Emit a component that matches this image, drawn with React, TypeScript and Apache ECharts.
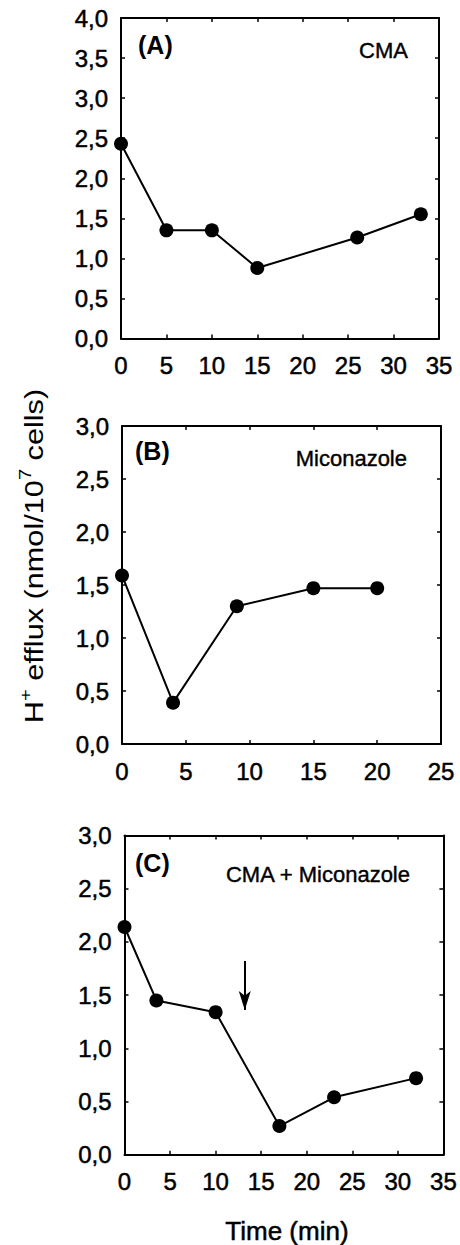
import React, { useEffect, useRef } from "react";
import * as echarts from "echarts";

// Panel A: CMA
const timeA = [0, 5, 10, 15, 26, 33];
const effluxA = [2.43, 1.35, 1.35, 0.88, 1.26, 1.55];
// Panel B: Miconazole
const timeB = [0, 4, 9, 15, 20];
const effluxB = [1.59, 0.39, 1.3, 1.47, 1.47];
// Panel C: CMA + Miconazole
const timeC = [0, 3.5, 10, 17, 23, 32];
const effluxC = [2.14, 1.45, 1.34, 0.27, 0.54, 0.72];
// Arrow in panel C (time, from value, to value)
const arrowTime = 13.2;
const arrowFrom = 1.82;
const arrowTo = 1.36;

const panelLetters = ["(A)", "(B)", "(C)"];
const panelTitles = ["CMA", "Miconazole", "CMA + Miconazole"];
const xMaxes = [35, 25, 35];
const yMaxes = [4, 3, 3];
const xInterval = 5;
const yInterval = 0.5;
const xTitle = "Time (min)";

const FONT = "'Liberation Sans', Arial, Helvetica, sans-serif";
const HEAVY = { textBorderColor: "#000", textBorderWidth: 0.5 };

export default function App() {
  const ref = useRef<HTMLDivElement>(null);

  useEffect(() => {
    if (!ref.current) return;
    const chart = echarts.init(ref.current, null, { renderer: "svg" });

    const grids = [
      { left: 121, top: 18, width: 318, height: 320.5 },
      { left: 122, top: 426, width: 319, height: 318 },
      { left: 124.5, top: 835.5, width: 319, height: 319.5 },
    ];
    const series = [
      timeA.map((t, i) => [t, effluxA[i]]),
      timeB.map((t, i) => [t, effluxB[i]]),
      timeC.map((t, i) => [t, effluxC[i]]),
    ];

    const axisLine = { show: true, onZero: false, lineStyle: { color: "#000", width: 2 } };
    const axisTick = { show: true, inside: true, length: 4, lineStyle: { color: "#000", width: 1.5 } };
    const labelStyle = { color: "#000", fontSize: 24, fontFamily: FONT, ...HEAVY };

    const xAxis: any[] = [];
    const yAxis: any[] = [];
    grids.forEach((_, i) => {
      const base = { type: "value", gridIndex: i, min: 0, max: xMaxes[i], interval: xInterval, splitLine: { show: false }, axisLine, axisTick };
      xAxis.push({
        ...base,
        position: "bottom",
        axisLabel: { ...labelStyle, margin: 15, showMinLabel: true, showMaxLabel: true },
        ...(i === 2
          ? {
              name: xTitle,
              nameLocation: "middle",
              nameGap: 63,
              nameTextStyle: { color: "#000", fontSize: 26, fontFamily: FONT, padding: [0, 0, 0, 6], ...HEAVY },
            }
          : {}),
      });
      xAxis.push({ ...base, position: "top", axisLabel: { show: false } });
      const ybase = { type: "value", gridIndex: i, min: 0, max: yMaxes[i], interval: yInterval, splitLine: { show: false }, axisLine, axisTick };
      yAxis.push({
        ...ybase,
        position: "left",
        axisLabel: {
          ...labelStyle,
          margin: 13,
          showMinLabel: true,
          showMaxLabel: true,
          formatter: (v: number) => v.toFixed(1).replace(".", ","),
        },
      });
      yAxis.push({ ...ybase, position: "right", axisLabel: { show: false } });
    });

    const seriesOpts: any[] = series.map((data, i) => ({
      type: "line",
      xAxisIndex: 2 * i,
      yAxisIndex: 2 * i,
      data,
      symbol: "circle",
      symbolSize: 14,
      clip: false,
      itemStyle: { color: "#000" },
      lineStyle: { color: "#000", width: 2 },
      ...(i === 2
        ? {
            markLine: {
              silent: true,
              symbol: ["none", "arrow"],
              symbolSize: [9, 19],
              label: { show: false },
              lineStyle: { color: "#000", width: 2, type: "solid" },
              data: [[{ coord: [arrowTime, arrowFrom] }, { coord: [arrowTime, arrowTo] }]],
            },
          }
        : {}),
    }));

    const letterPos = [
      { x: 138, y: 45 },
      { x: 135, y: 451 },
      { x: 135, y: 863 },
    ];
    const titlePos = [
      { x: 408, y: 50 },
      { x: 407, y: 458 },
      { x: 410, y: 874 },
    ];

    const graphic: any[] = [];
    panelLetters.forEach((t, i) => {
      graphic.push({
        type: "text",
        x: letterPos[i].x,
        y: letterPos[i].y,
        style: { text: t, fill: "#000", fontSize: 25, fontWeight: "bold", fontFamily: FONT, align: "left", verticalAlign: "middle" },
      });
      graphic.push({
        type: "text",
        x: titlePos[i].x,
        y: titlePos[i].y,
        style: { text: panelTitles[i], fill: "#000", fontSize: 22, fontFamily: FONT, align: "right", verticalAlign: "middle", stroke: "#000", lineWidth: 0.4 },
      });
    });
    graphic.push({
      type: "text",
      x: 34,
      y: 556,
      rotation: Math.PI / 2,
      scaleX: 1.18,
      style: {
        text: "{m|H}{s|+}{m| efflux (nmol/10}{s|7}{m| cells)}",
        fill: "#000",
        align: "center",
        verticalAlign: "middle",
        rich: {
          m: { fontSize: 26, lineHeight: 34, fontFamily: FONT, fill: "#000" },
          s: { fontSize: 17, lineHeight: 16, fontFamily: FONT, fill: "#000", verticalAlign: "top" },
        },
      },
    });

    chart.setOption({
      animation: false,
      backgroundColor: "#fff",
      grid: grids,
      xAxis,
      yAxis,
      series: seriesOpts,
      graphic,
    });

    return () => chart.dispose();
  }, []);

  return <div ref={ref} style={{ position: "absolute", left: 0, top: 0, width: 460, height: 1245 }} />;
}
